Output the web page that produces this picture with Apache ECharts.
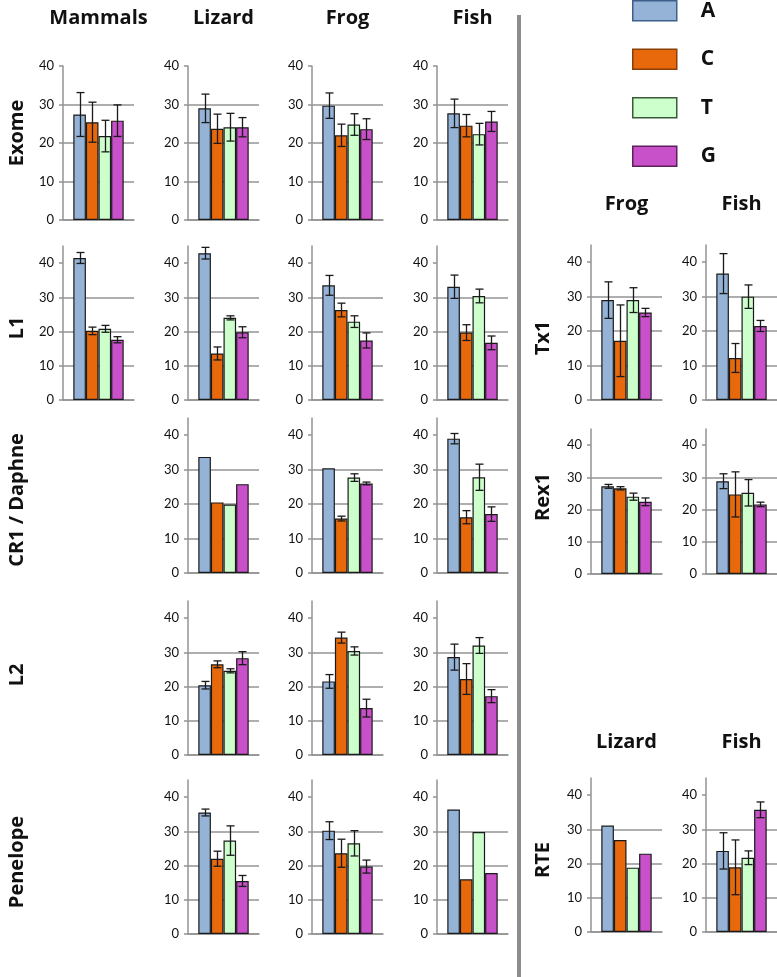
<!DOCTYPE html>
<html><head><meta charset="utf-8">
<script src="https://cdn.jsdelivr.net/npm/echarts@6/dist/echarts.min.js"></script>
<style>html,body{margin:0;padding:0;background:#fff}#c{width:777px;height:977px}</style>
</head><body><div id="c"></div>
<script>
// ---------- data ----------
const categories = ['A', 'C', 'T', 'G'];
const yTicks = [0, 10, 20, 30, 40];
const colTitles = ['Mammals', 'Lizard', 'Frog', 'Fish'];
const rowTitles = ['Exome', 'L1', 'CR1 / Daphne', 'L2', 'Penelope'];
const rightRowTitles = ['Tx1', 'Rex1', 'RTE'];
const rightColTitlesTop = ['Frog', 'Fish'];
const rightColTitlesBottom = ['Lizard', 'Fish'];

const exomeMammals = [27.4, 25.4, 21.8, 25.8];
const exomeMammalsErr = [5.7, 5.2, 4.1, 4.1];
const exomeLizard = [29.0, 23.7, 24.1, 24.1];
const exomeLizardErr = [3.7, 3.8, 3.6, 2.5];
const exomeFrog = [29.7, 22.0, 24.8, 23.6];
const exomeFrogErr = [3.3, 2.9, 2.8, 2.7];
const exomeFish = [27.7, 24.5, 22.3, 25.6];
const exomeFishErr = [3.7, 2.9, 2.8, 2.6];

const l1Mammals = [41.5, 20.2, 20.8, 17.6];
const l1MammalsErr = [1.6, 1.1, 1.0, 0.9];
const l1Lizard = [42.9, 13.6, 24.0, 19.8];
const l1LizardErr = [1.7, 1.9, 0.6, 1.6];
const l1Frog = [33.5, 26.3, 22.9, 17.4];
const l1FrogErr = [2.9, 2.0, 1.7, 2.2];
const l1Fish = [33.1, 19.7, 30.4, 16.7];
const l1FishErr = [3.4, 2.3, 2.0, 2.0];

const cr1Lizard = [33.7, 20.5, 19.9, 25.8];
const cr1LizardErr = [0, 0, 0, 0];
const cr1Frog = [30.4, 15.8, 27.7, 26.0];
const cr1FrogErr = [0, 0.7, 1.1, 0.4];
const cr1Fish = [39.0, 16.2, 27.8, 17.1];
const cr1FishErr = [1.5, 1.9, 3.8, 2.1];

const l2Lizard = [20.4, 26.5, 24.6, 28.3];
const l2LizardErr = [1.1, 1.0, 0.6, 1.9];
const l2Frog = [21.5, 34.3, 30.4, 13.7];
const l2FrogErr = [2.0, 1.6, 1.2, 2.6];
const l2Fish = [28.6, 22.2, 32.0, 17.2];
const l2FishErr = [3.8, 4.5, 2.3, 1.9];

const penelopeLizard = [35.5, 22.0, 27.3, 15.5];
const penelopeLizardErr = [1.0, 2.2, 4.3, 1.6];
const penelopeFrog = [30.2, 23.6, 26.5, 19.7];
const penelopeFrogErr = [2.6, 4.1, 3.7, 1.9];
const penelopeFish = [36.4, 16.0, 29.8, 17.8];
const penelopeFishErr = [0, 0, 0, 0];

const tx1Frog = [29.0, 17.2, 29.0, 25.4];
const tx1FrogErr = [5.3, 10.4, 3.6, 1.2];
const tx1Fish = [36.7, 12.2, 30.0, 21.5];
const tx1FishErr = [5.8, 4.2, 3.4, 1.6];

const rex1Frog = [27.2, 26.6, 24.0, 22.4];
const rex1FrogErr = [0.6, 0.5, 1.1, 1.2];
const rex1Fish = [28.8, 24.7, 25.2, 21.6];
const rex1FishErr = [2.3, 7.0, 4.1, 0.7];

const rteLizard = [31.1, 26.9, 18.8, 22.9];
const rteLizardErr = [0, 0, 0, 0];
const rteFish = [23.7, 18.9, 21.7, 35.7];
const rteFishErr = [5.3, 8.0, 2.0, 2.3];

// ---------- styling / layout ----------
const FONT = 'Lato, "Open Sans", sans-serif';
const TFONT = '"Open Sans", sans-serif';
const colors = ['#95b3d7', '#e8690c', '#ccffcc', '#c850c8'];
const legendBorders = ['#3d5f8c', '#8a3f08', '#3a5a3a', '#5e1f5e'];
const GRAY = '#939393';
const W = 71;
const GAP = 0.29;
const X = {mam: 63, liz: 188, frog: 312, fish: 437, rFrog: 591, rFish: 706};
const R = {
  exome: {top: 66, bottom: 220, max: 40},
  l1: {top: 246, bottom: 400, max: 45},
  cr1: {top: 418, bottom: 573, max: 45},
  l2: {top: 601, bottom: 755, max: 45},
  pen: {top: 780, bottom: 934, max: 45},
  tx1: {top: 245, bottom: 400, max: 45},
  rex1: {top: 429, bottom: 574, max: 45},
  rte: {top: 778, bottom: 932, max: 45}
};

const panels = [
  [exomeMammals, exomeMammalsErr, X.mam, R.exome],
  [exomeLizard, exomeLizardErr, X.liz, R.exome],
  [exomeFrog, exomeFrogErr, X.frog, R.exome],
  [exomeFish, exomeFishErr, X.fish, R.exome],
  [l1Mammals, l1MammalsErr, X.mam, R.l1],
  [l1Lizard, l1LizardErr, X.liz, R.l1],
  [l1Frog, l1FrogErr, X.frog, R.l1],
  [l1Fish, l1FishErr, X.fish, R.l1],
  [cr1Lizard, cr1LizardErr, X.liz, R.cr1],
  [cr1Frog, cr1FrogErr, X.frog, R.cr1],
  [cr1Fish, cr1FishErr, X.fish, R.cr1],
  [l2Lizard, l2LizardErr, X.liz, R.l2],
  [l2Frog, l2FrogErr, X.frog, R.l2],
  [l2Fish, l2FishErr, X.fish, R.l2],
  [penelopeLizard, penelopeLizardErr, X.liz, R.pen],
  [penelopeFrog, penelopeFrogErr, X.frog, R.pen],
  [penelopeFish, penelopeFishErr, X.fish, R.pen],
  [tx1Frog, tx1FrogErr, X.rFrog, R.tx1],
  [tx1Fish, tx1FishErr, X.rFish, R.tx1],
  [rex1Frog, rex1FrogErr, X.rFrog, R.rex1],
  [rex1Fish, rex1FishErr, X.rFish, R.rex1],
  [rteLizard, rteLizardErr, X.rFrog, R.rte],
  [rteFish, rteFishErr, X.rFish, R.rte]
];

const grid = [], xAxis = [], yAxis = [], series = [];
panels.forEach(([vals, errs, left, row], gi) => {
  grid.push({left: left, top: row.top, width: W, height: row.bottom - row.top});
  xAxis.push({
    type: 'category', gridIndex: gi, data: [''],
    axisLine: {show: true, lineStyle: {color: GRAY, width: 1.5}},
    axisTick: {show: false}, axisLabel: {show: false}
  });
  yAxis.push({
    type: 'value', gridIndex: gi, min: 0, max: row.max, interval: 10,
    axisLine: {show: true, lineStyle: {color: GRAY, width: 1.5}},
    axisTick: {show: true, length: 4, lineStyle: {color: GRAY, width: 1.5}, customValues: yTicks},
    axisLabel: {color: '#111', fontSize: 13, fontFamily: FONT, margin: 9, customValues: yTicks, showMaxLabel: true},
    splitLine: {show: true, showMaxLine: false, lineStyle: {color: GRAY, width: 1.5}}
  });
  categories.forEach((c, k) => {
    series.push({
      type: 'bar', name: c, xAxisIndex: gi, yAxisIndex: gi,
      data: [vals[k]], barGap: '0%', barCategoryGap: (GAP * 100) + '%',
      itemStyle: {color: colors[k], borderColor: '#1a1a1a', borderWidth: 1.2},
      emphasis: {disabled: true}, animation: false
    });
  });
  series.push({
    type: 'custom', name: 'err' + gi, xAxisIndex: gi, yAxisIndex: gi, z: 5,
    data: vals.map((v, k) => [0, v - errs[k], v + errs[k], k, errs[k]]),
    encode: {x: 0, y: [1, 2]},
    animation: false, silent: true,
    renderItem: function (params, api) {
      if (api.value(4) <= 0) return null;
      const k = api.value(3);
      const band = api.size([1, 0])[0];
      const lo = api.coord([0, api.value(1)]);
      const hi = api.coord([0, api.value(2)]);
      const total = band * (1 - GAP);
      const bw = total / 4;
      const x = Math.round(lo[0] - total / 2 + bw * (k + 0.5)) + 0.5;
      const cap = 4;
      const st = {stroke: '#1a1a1a', lineWidth: 1.3};
      return {type: 'group', children: [
        {type: 'line', shape: {x1: x, y1: lo[1], x2: x, y2: hi[1]}, style: st},
        {type: 'line', shape: {x1: x - cap, y1: lo[1], x2: x + cap, y2: lo[1]}, style: st},
        {type: 'line', shape: {x1: x - cap, y1: hi[1], x2: x + cap, y2: hi[1]}, style: st}
      ]};
    }
  });
});

const titleStyle = {fontSize: 20, fontWeight: 'bold', fontFamily: TFONT, fill: '#111', textAlign: 'center', textVerticalAlign: 'middle'};
const graphic = [];
const colCenters = [X.mam, X.liz, X.frog, X.fish].map(x => x + W / 2);
colTitles.forEach((t, i) => graphic.push({type: 'text', x: colCenters[i], y: 18, style: Object.assign({text: t}, titleStyle)}));
const rowCenters = [133, 328, 500, 675, 862];
rowTitles.forEach((t, i) => graphic.push({type: 'text', x: 17, y: rowCenters[i], rotation: Math.PI / 2, style: Object.assign({text: t}, titleStyle)}));
const rRowCenters = [338, 497, 860];
rightRowTitles.forEach((t, i) => graphic.push({type: 'text', x: 543, y: rRowCenters[i], rotation: Math.PI / 2, style: Object.assign({text: t}, titleStyle)}));
const rColCenters = [X.rFrog + W / 2, X.rFish + W / 2];
rightColTitlesTop.forEach((t, i) => graphic.push({type: 'text', x: rColCenters[i], y: 204, style: Object.assign({text: t}, titleStyle)}));
rightColTitlesBottom.forEach((t, i) => graphic.push({type: 'text', x: rColCenters[i], y: 742, style: Object.assign({text: t}, titleStyle)}));
graphic.push({type: 'line', shape: {x1: 519, y1: 15, x2: 519, y2: 977}, style: {stroke: '#8c8c8c', lineWidth: 4}});

const chart = echarts.init(document.getElementById('c'), null, {renderer: 'canvas'});
chart.setOption({
  animation: false,
  backgroundColor: '#fff',
  legend: {
    orient: 'vertical', left: 632, top: 0, padding: 0,
    itemWidth: 44, itemHeight: 20, itemGap: 27, icon: 'rect', selectedMode: false,
    data: categories.map((c, k) => ({name: c, itemStyle: {color: colors[k], borderColor: legendBorders[k], borderWidth: 1.5}})),
    textStyle: {fontSize: 21, fontWeight: 'bold', fontFamily: TFONT, color: '#111', padding: [0, 0, 0, 19]}
  },
  grid, xAxis, yAxis, series, graphic
});
</script></body></html>
